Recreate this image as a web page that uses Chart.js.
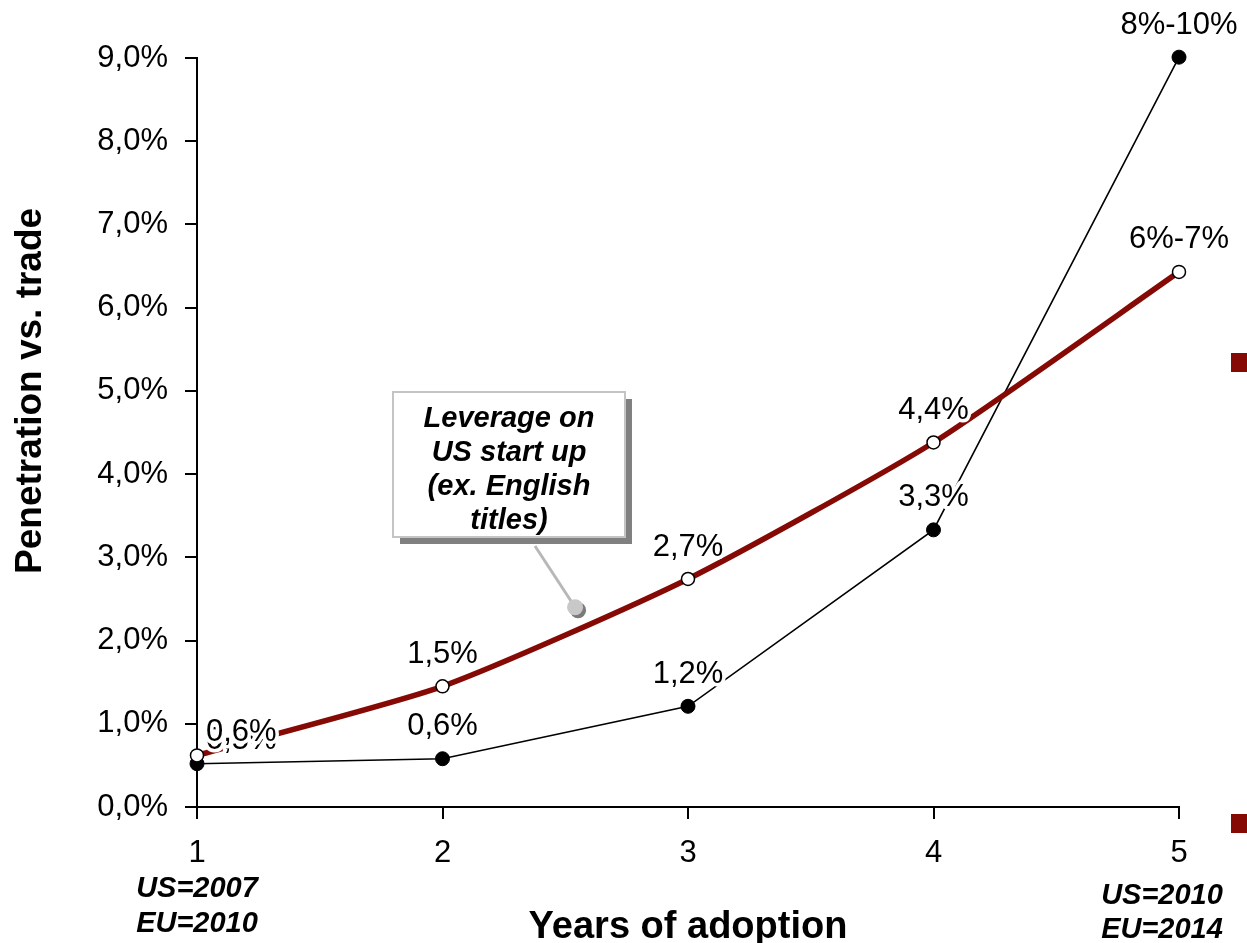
<!DOCTYPE html>
<html>
<head>
<meta charset="utf-8">
<script src="https://cdn.jsdelivr.net/npm/chart.js@4"></script>
<style>
  html, body { margin: 0; padding: 0; background: #fff; }
  #wrap { width: 1247px; height: 943px; position: relative; }
</style>
</head>
<body>
<div id="wrap"><canvas id="chart" width="1247" height="943"></canvas></div>
<script>
// chart data
const years = [1, 2, 3, 4, 5];
const penetrationLow = [0.52, 0.58, 1.21, 3.33, 9.01];
const penetrationHigh = [0.62, 1.45, 2.74, 4.38, 6.43];
const lowLabels = ['0,5%', '0,6%', '1,2%', '3,3%', '8%-10%'];
const highLabels = ['0,6%', '1,5%', '2,7%', '4,4%', '6%-7%'];
const yTicks = [0, 1, 2, 3, 4, 5, 6, 7, 8, 9];
const startYear = ['US=2007', 'EU=2010'];
const endYear = ['US=2010', 'EU=2014'];
const calloutText = ['Leverage on', 'US start up', '(ex. English', 'titles)'];
const yTitle = 'Penetration vs. trade';

const FONT = '"Liberation Sans", Arial, sans-serif';
const DARK_RED = '#850a05';

// point labels with a white halo, drawn after both lines (black series first)
const pointLabels = {
    id: 'pointLabels',
    afterDatasetsDraw(chart) {
        const ctx = chart.ctx;
        ctx.save();
        ctx.font = '31px ' + FONT;
        ctx.textBaseline = 'middle';
        ctx.lineJoin = 'round';
        [1, 0].forEach((di) => {
            const ds = chart.data.datasets[di];
            const meta = chart.getDatasetMeta(di);
            meta.data.forEach((pt, i) => {
                let x = pt.x, y = pt.y - 32;
                ctx.textAlign = 'center';
                if (i === 0) {
                    ctx.textAlign = 'left';
                    x = pt.x + 9;
                    y = pt.y - 23;
                }
                ctx.strokeStyle = '#fff';
                ctx.lineWidth = 7;
                ctx.strokeText(ds.pointText[i], x, y);
                ctx.fillStyle = '#000';
                ctx.fillText(ds.pointText[i], x, y);
            });
        });
        ctx.restore();
    }
};

// y title (sits above centre in the original), year notes, callout, stray legend squares
const extras = {
    id: 'extras',
    afterDraw(chart) {
        const ctx = chart.ctx;
        const xs = chart.scales.x, ys = chart.scales.y;
        ctx.save();

        ctx.save();
        ctx.translate(31, ys.getPixelForValue(5.0));
        ctx.rotate(-Math.PI / 2);
        ctx.font = 'bold 37px ' + FONT;
        ctx.fillStyle = '#000';
        ctx.textAlign = 'center';
        ctx.textBaseline = 'middle';
        ctx.fillText(yTitle, 0, 0);
        ctx.restore();

        ctx.font = 'italic bold 29px ' + FONT;
        ctx.fillStyle = '#000';
        ctx.textAlign = 'center';
        ctx.textBaseline = 'middle';
        const x1 = xs.getPixelForValue(years[0]);
        const x5 = xs.getPixelForValue(years[years.length - 1]);
        startYear.forEach((t, i) => ctx.fillText(t, x1, 889 + i * 35));
        endYear.forEach((t, i) => ctx.fillText(t, x5 - 17, 896 + i * 34));

        // callout
        const tipX = xs.getPixelForValue(2.54), tipY = ys.getPixelForValue(2.4);
        ctx.strokeStyle = '#b8b8b8';
        ctx.lineWidth = 3;
        ctx.beginPath();
        ctx.moveTo(535, 546);
        ctx.lineTo(tipX, tipY);
        ctx.stroke();
        ctx.fillStyle = '#7a7a7a';
        ctx.beginPath();
        ctx.arc(tipX + 3, tipY + 3, 8, 0, Math.PI * 2);
        ctx.fill();
        ctx.fillStyle = '#c8c8c8';
        ctx.beginPath();
        ctx.arc(tipX, tipY, 8, 0, Math.PI * 2);
        ctx.fill();

        ctx.fillStyle = '#808080';
        ctx.fillRect(400, 399, 232, 145);
        ctx.fillStyle = '#fff';
        ctx.fillRect(393, 392, 232, 145);
        ctx.strokeStyle = '#c4c4c4';
        ctx.lineWidth = 2;
        ctx.strokeRect(393, 392, 232, 145);
        ctx.fillStyle = '#000';
        ctx.font = 'italic bold 29px ' + FONT;
        calloutText.forEach((t, i) => ctx.fillText(t, 509, 419 + i * 34));

        ctx.fillStyle = DARK_RED;
        ctx.fillRect(1231, 353, 16, 19);
        ctx.fillRect(1231, 814, 16, 19);
        ctx.restore();
    }
};

new Chart(document.getElementById('chart'), {
    type: 'line',
    data: {
        labels: years,
        datasets: [
            {
                label: 'High',
                data: years.map((x, i) => ({ x: x, y: penetrationHigh[i] })),
                pointText: highLabels,
                borderColor: DARK_RED,
                borderWidth: 5.5,
                tension: 0.2,
                pointRadius: 6.5,
                pointBackgroundColor: '#fff',
                pointBorderColor: '#000',
                pointBorderWidth: 1.5,
                clip: false,
                order: 0
            },
            {
                label: 'Low',
                data: years.map((x, i) => ({ x: x, y: penetrationLow[i] })),
                pointText: lowLabels,
                borderColor: '#000',
                borderWidth: 1.6,
                tension: 0,
                pointRadius: 7,
                pointBackgroundColor: '#000',
                pointBorderColor: '#000',
                pointBorderWidth: 1,
                clip: false,
                order: 1
            }
        ]
    },
    options: {
        responsive: false,
        animation: false,
        layout: { padding: { top: 58, right: 68, left: 0, bottom: 0 } },
        plugins: {
            legend: { display: false },
            tooltip: { enabled: false }
        },
        scales: {
            x: {
                type: 'linear',
                min: 1,
                max: 5,
                afterBuildTicks: (s) => { s.ticks = years.map(v => ({ value: v })); },
                afterFit: (s) => { s.height = 136; },
                border: { display: true, color: '#000', width: 2 },
                grid: { drawOnChartArea: false, drawTicks: true, tickLength: 12, color: '#000', lineWidth: 2 },
                ticks: { color: '#000', font: { family: FONT, size: 31 }, padding: 16 },
                title: {
                    display: true,
                    text: 'Years of adoption',
                    color: '#000',
                    font: { family: FONT, size: 38, weight: 'bold', lineHeight: 0.8 },
                    padding: { top: 0, bottom: 0 }
                }
            },
            y: {
                min: 0,
                max: 9,
                afterBuildTicks: (s) => { s.ticks = yTicks.map(v => ({ value: v })); },
                afterFit: (s) => { s.width = 197; },
                border: { display: true, color: '#000', width: 2 },
                grid: { drawOnChartArea: false, drawTicks: true, tickLength: 12, color: '#000', lineWidth: 2 },
                ticks: {
                    color: '#000',
                    font: { family: FONT, size: 31 },
                    padding: 17,
                    callback: (v) => v.toFixed(1).replace('.', ',') + '%'
                }
            }
        }
    },
    plugins: [pointLabels, extras]
});
</script>
</body>
</html>
